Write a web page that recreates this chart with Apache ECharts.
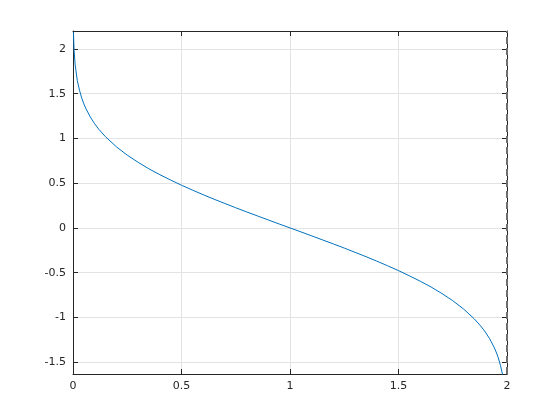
<!DOCTYPE html>
<html><head><meta charset="utf-8">
<script src="https://cdn.jsdelivr.net/npm/echarts@6/dist/echarts.min.js"></script>
<style>html,body{margin:0;padding:0;background:#fff}#c{width:560px;height:420px}</style>
</head><body><div id="c"></div>
<script>
// values
const xValues = [0.002,0.005,0.01,0.02,0.03,0.04,0.05,0.06,0.08,0.10,0.12,0.15,0.20,0.25,0.30,0.35,0.40,0.45,0.50,0.55,0.60,0.65,0.70,0.75,0.80,0.85,0.90,0.95,1.00,
  1.05,1.10,1.15,1.20,1.25,1.30,1.35,1.40,1.45,1.50,1.55,1.60,1.65,1.70,1.75,1.80,1.85,1.88,1.90,1.92,1.94,1.95,1.96,1.97,1.98,1.99,1.995,1.998];
const yValues = [2.185,1.985,1.821,1.645,1.538,1.452,1.386,1.330,1.238,1.163,1.099,1.018,0.906,0.813,0.733,0.660,0.595,0.535,0.477,0.423,0.371,0.321,0.273,0.225,0.179,0.134,0.089,0.044,0.000,
  -0.044,-0.089,-0.134,-0.179,-0.225,-0.273,-0.321,-0.371,-0.423,-0.477,-0.535,-0.595,-0.660,-0.733,-0.813,-0.906,-1.018,-1.099,-1.163,-1.238,-1.330,-1.386,-1.452,-1.538,-1.645,-1.821,-1.985,-2.185];
const xTicks = [0, 0.5, 1, 1.5, 2];
const yTicks = [-1.5, -1, -0.5, 0, 0.5, 1, 1.5, 2];
const xRange = [0, 2];
const yRange = [-1.632, 2.2];
const refLineX = 2;

const axisColor = '#262626';
const font = {fontFamily: 'DejaVu Sans', fontSize: 11, color: axisColor};
const chart = echarts.init(document.getElementById('c'), null, {renderer: 'canvas'});
const data = xValues.map((x, i) => [x, yValues[i]]);
const common = {
  axisLine: {show: true, onZero: false, lineStyle: {color: axisColor, width: 1}},
  axisTick: {show: true, inside: true, length: 5, lineStyle: {color: axisColor}},
};
chart.setOption({
  animation: false,
  grid: {left: 73, right: 53, top: 31, bottom: 46, containLabel: false},
  xAxis: [
    Object.assign({type: 'value', min: xRange[0], max: xRange[1], interval: 0.5,
      axisLabel: Object.assign({margin: 7, formatter: v => xTicks.includes(v) ? String(v) : ''}, font),
      splitLine: {show: true, lineStyle: {color: '#e3e3e3', width: 1}}}, common),
    Object.assign({type: 'value', position: 'top', min: xRange[0], max: xRange[1], interval: 0.5,
      axisLabel: {show: false}, splitLine: {show: false}}, common)
  ],
  yAxis: [
    Object.assign({type: 'value', min: yRange[0], max: yRange[1], splitNumber: 8,
      showMinLabel: false, showMaxLabel: false,
      axisLabel: Object.assign({margin: 7, formatter: v => yTicks.includes(v) ? String(v) : ''}, font),
      splitLine: {show: true, lineStyle: {color: '#e3e3e3', width: 1}}}, common),
    Object.assign({type: 'value', position: 'right', min: yRange[0], max: yRange[1], splitNumber: 8,
      axisLabel: {show: false}, splitLine: {show: false}}, common)
  ],
  series: [{
    type: 'line', data: data, xAxisIndex: 0, yAxisIndex: 0,
    showSymbol: false, symbol: 'none', clip: true,
    lineStyle: {color: '#0072BD', width: 1},
    markLine: {silent: true, symbol: ['none', 'none'], label: {show: false},
      lineStyle: {color: '#6e6e6e', type: [7, 4], width: 2},
      data: [{xAxis: refLineX}]}
  }]
});
</script></body></html>
